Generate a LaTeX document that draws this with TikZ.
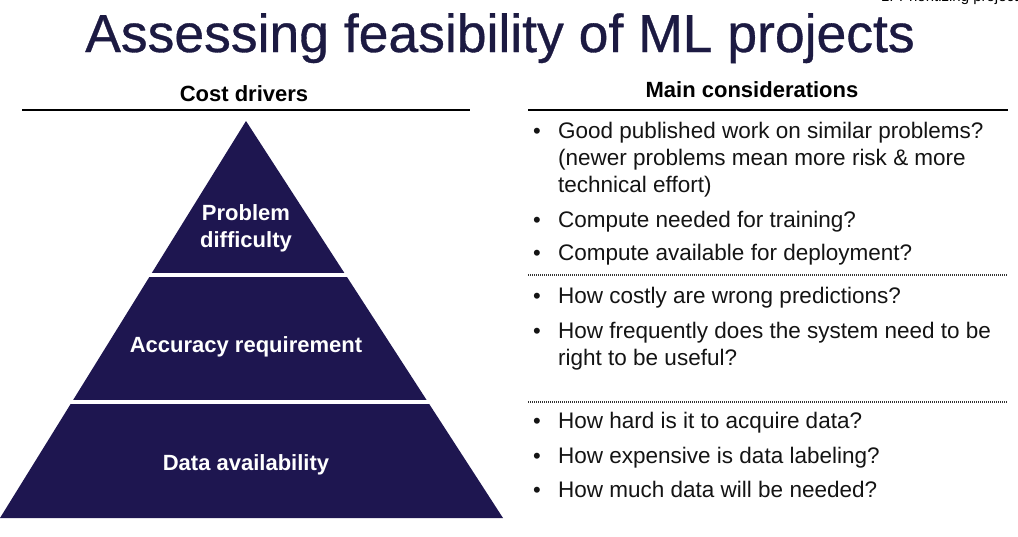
\documentclass[tikz,border=0pt]{standalone}
\usepackage{fontspec}
\setmainfont{Liberation Sans}
\newfontfamily\titlefont[FakeBold=0.6]{Liberation Sans}
\definecolor{navy}{RGB}{30,22,80}
\definecolor{titlec}{RGB}{28,26,66}
\definecolor{txt}{RGB}{20,20,20}
\begin{document}
\begin{tikzpicture}[x=1pt,y=-1pt,
  hdr/.style={font=\fontsize{22}{26}\selectfont\bfseries, text=black, inner sep=0pt, anchor=base},
  plabel/.style={font=\fontsize{22}{27}\selectfont\bfseries, text=white, inner sep=0pt, anchor=base, align=center},
  item/.style={font=\fontsize{22.5}{27}\selectfont, text=txt, inner sep=0pt, anchor=base west, align=left},
  bul/.style={font=\fontsize{22}{27}\selectfont, text=txt, inner sep=0pt, anchor=base},
  sep/.style={line width=1.3pt, dash pattern=on 1pt off 1pt, draw=black!80}
]
\useasboundingbox (0,0) rectangle (1018,536);
\fill[white] (0,0) rectangle (1018,536);
\begin{scope}
\clip (0,0) rectangle (1018,536);
\node[font=\fontsize{15}{18}\selectfont, text=black, inner sep=0pt, anchor=base east] (crumb) at (1026,1) {1. Prioritizing projects};
\end{scope}
% title
\node[font=\titlefont\fontsize{53.5}{60}\selectfont, text=titlec, inner sep=0pt, anchor=base] (title) at (500,52) {Assessing feasibility of ML projects};
% headers
\node[hdr] (costh) at (244,101) {Cost drivers};
\node[hdr] (mainh) at (752,97) {Main considerations};
\draw[line width=2pt] (22,110) -- (470,110);
\draw[line width=2pt] (528,110) -- (1008,110);
% pyramid
\fill[navy] (246,121) -- (503,518) -- (0,518) -- cycle;
\draw[white, line width=4pt] (100,275) -- (400,275);
\draw[white, line width=4pt] (40,402) -- (460,402);
\node[plabel] (pd) at (246,247) {Problem\\difficulty};
\node[plabel] (ar) at (246,352) {Accuracy requirement};
\node[plabel] (da) at (246,470) {Data availability};
% separators
\draw[sep] (528,275) -- (1008,275);
\draw[sep] (528,402) -- (1008,402);
% bullets
\foreach \y in {138,227,260,303,338,428,463,497} {
  \node[bul] at (537,\y) {•};
}
\node[item] (i1) at (558,192) {Good published work on similar problems?\\(newer problems mean more risk \& more\\technical effort)};
\node[item] (i2) at (558,227) {Compute needed for training?};
\node[item] (i3) at (558,260) {Compute available for deployment?};
\node[item] (i4) at (558,303) {How costly are wrong predictions?};
\node[item] (i5) at (558,365) {How frequently does the system need to be\\right to be useful?};
\node[item] (i6) at (558,428) {How hard is it to acquire data?};
\node[item] (i7) at (558,463) {How expensive is data labeling?};
\node[item] (i8) at (558,497) {How much data will be needed?};
\end{tikzpicture}
\end{document}
